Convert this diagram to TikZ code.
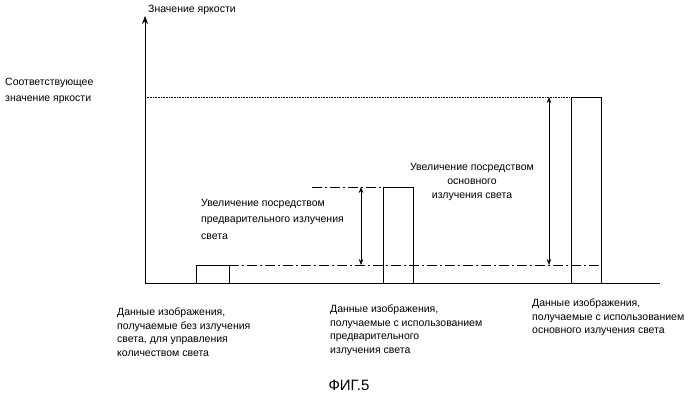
\documentclass[tikz,border=0pt]{standalone}
\usepackage{fontspec}
\setmainfont{Liberation Sans}
\usetikzlibrary{arrows.meta}
\tikzset{
  lbl/.style={font=\fontsize{10.5}{16.5}\selectfont, align=left, inner sep=0pt},
  caption/.style={lbl, font=\fontsize{10.5}{13.5}\selectfont, anchor=north west},
  bar/.style={draw, line width=1pt},
  dashdot/.style={dash pattern=on 10pt off 3pt on 2pt off 3pt, line width=0.6pt},
  rise/.style={{Stealth[length=6pt]}-{Stealth[length=6pt]}, line width=0.6pt}
}
\begin{document}
\begin{tikzpicture}[x=1pt, y=-1pt]
  \useasboundingbox (0,0) rectangle (699,402);

  % axes
  \coordinate (o) at (145,283);
  \draw[-{Stealth[length=8pt]}, line width=0.8pt] (o) -- (145,16);
  \draw[line width=0.8pt] (o) -- (660,283);
  \node[lbl, anchor=west] (ylab) at (148,10) {Значение яркости};
  \node[lbl, anchor=west] (corr) at (5,91) {Соответствующее\\значение яркости};

  % reference levels
  \draw[densely dotted, line width=0.6pt] (145,97) -- (571,97);
  \draw[dashdot] (229,265) -- (601,265);
  \draw[dashdot] (312,187) -- (383,187);

  % bars
  \draw[bar] (196,283) rectangle (229,265);
  \draw[bar] (383,283) rectangle (413,187);
  \draw[bar] (571,283) rectangle (601,97);

  % increases
  \draw[rise] (361,187) -- (361,265);
  \draw[rise] (549,97) -- (549,265);
  \node[lbl, anchor=north west] (pre) at (201,199) {Увеличение посредством\\предварительного излучения\\света};
  \node[lbl, anchor=north, align=center, font=\fontsize{10.5}{14}\selectfont] (main) at (472,163) {Увеличение посредством\\основного\\излучения света};

  % captions
  \node[caption] (c1) at (117,308) {Данные изображения,\\получаемые без излучения\\света, для управления\\количеством света};
  \node[caption] (c2) at (330,305) {Данные изображения,\\получаемые с использованием\\предварительного\\излучения света};
  \node[caption] (c3) at (532,299) {Данные изображения,\\получаемые с использованием\\основного излучения света};

  \node[font=\fontsize{15}{17}\selectfont, inner sep=0pt] (fig) at (349,385) {ФИГ.5};
\end{tikzpicture}
\end{document}
